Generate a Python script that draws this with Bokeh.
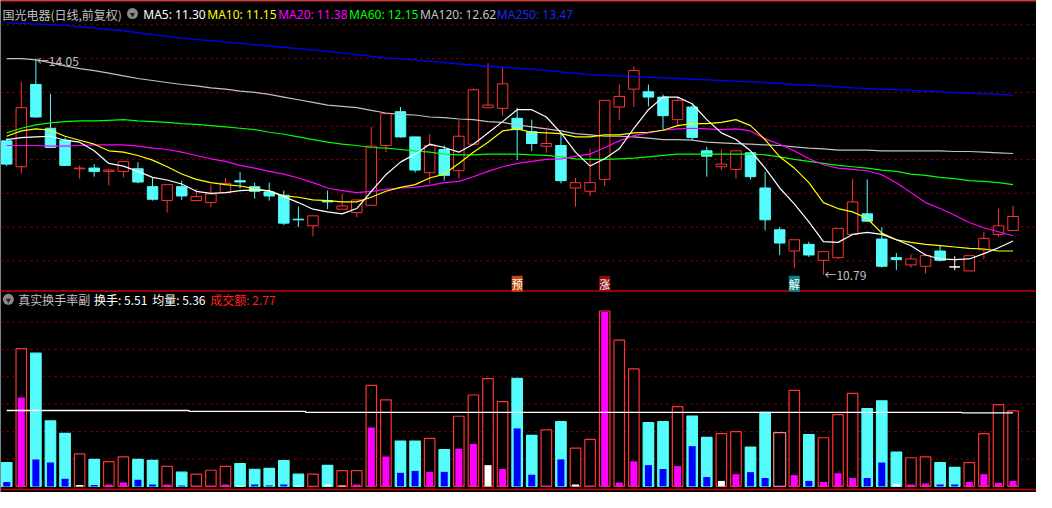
from bokeh.plotting import figure
from bokeh.models import Range1d, Span, Label, ColumnDataSource
from bokeh.embed import file_html
from bokeh.resources import INLINE

# ---------------- data ----------------
stock_title = "国光电器(日线,前复权)"
sub_title = "真实换手率副"
amount_text = "成交额: 2.77"

open_ = [12.81, 12.42, 13.66, 13.00, 12.82, 12.39, 12.40, 12.35, 12.35, 12.39,
         12.12, 11.91, 12.12, 11.91, 11.88, 12.03, 12.21, 12.12, 12.04, 11.99,
         11.63, 11.53, 11.91, 11.78, 11.73, 11.84, 12.74, 13.25, 12.87, 12.33,
         12.68, 12.36, 12.76, 13.31, 13.30, 13.15, 12.95, 12.73, 12.74, 12.10,
         12.05, 12.23, 13.32, 13.59, 13.55, 13.47, 13.13, 13.32, 12.66, 12.42,
         12.38, 12.63, 12.10, 11.47, 11.15, 11.25, 11.01, 11.05, 11.40, 11.71,
         11.33, 11.05, 10.94, 10.92, 11.15, 10.91, 10.85, 11.17, 11.40, 11.46]
high = [12.85, 13.70, 14.05, 13.52, 12.86, 12.44, 12.46, 12.39, 12.50, 12.49,
        12.26, 12.15, 12.21, 12.09, 12.15, 12.25, 12.34, 12.18, 12.18, 12.06,
        11.82, 11.68, 12.06, 12.01, 11.92, 13.02, 13.22, 13.32, 12.87, 12.91,
        12.74, 13.12, 13.60, 13.98, 13.92, 13.31, 13.13, 12.98, 12.91, 12.25,
        12.69, 13.42, 13.66, 13.93, 13.66, 13.51, 13.47, 13.35, 12.72, 12.68,
        12.66, 12.63, 12.34, 11.51, 11.32, 11.29, 11.15, 11.49, 12.24, 12.23,
        11.51, 11.12, 11.10, 11.11, 11.23, 11.07, 11.08, 11.44, 11.79, 11.83]
low = [12.43, 12.32, 13.16, 12.70, 12.43, 12.24, 12.27, 12.14, 12.26, 12.17,
       11.91, 11.73, 11.92, 11.91, 11.81, 12.02, 12.09, 11.94, 11.91, 11.54,
       11.51, 11.37, 11.78, 11.78, 11.66, 11.84, 12.64, 12.86, 12.33, 12.17,
       12.21, 12.24, 12.76, 13.31, 13.19, 12.52, 12.66, 12.63, 12.17, 11.82,
       11.98, 12.13, 13.13, 13.32, 13.33, 12.97, 13.03, 12.82, 12.27, 12.37,
       12.24, 12.23, 11.46, 11.09, 10.89, 11.06, 10.79, 11.03, 11.40, 11.59,
       10.90, 10.86, 10.90, 10.81, 10.99, 10.86, 10.85, 11.03, 11.36, 11.46]
close = [12.46, 13.31, 13.17, 12.71, 12.44, 12.40, 12.35, 12.37, 12.50, 12.19,
         11.93, 12.15, 11.98, 11.97, 12.01, 12.17, 12.19, 12.05, 11.98, 11.57,
         11.62, 11.68, 11.89, 11.83, 11.92, 12.73, 13.22, 12.87, 12.37, 12.74,
         12.29, 12.88, 13.58, 13.35, 13.67, 12.98, 12.77, 12.77, 12.21, 12.18,
         12.18, 13.42, 13.48, 13.87, 13.47, 13.19, 13.42, 12.86, 12.58, 12.46,
         12.66, 12.27, 11.62, 11.27, 11.32, 11.09, 11.14, 11.49, 11.89, 11.60,
         10.92, 11.02, 11.03, 11.08, 11.01, 10.91, 11.08, 11.34, 11.53, 11.67]

ma5 = [12.83, 12.86, 12.87, 12.88, 12.82, 12.79, 12.66, 12.47, 12.43, 12.35,
       12.26, 12.22, 12.16, 12.05, 12.02, 12.03, 12.06, 12.07, 12.06, 11.97,
       11.88, 11.78, 11.74, 11.71, 11.79, 12.05, 12.30, 12.49, 12.61, 12.76,
       12.71, 12.64, 12.76, 12.93, 13.10, 13.28, 13.28, 13.17, 12.93, 12.64,
       12.43, 12.54, 12.69, 13.00, 13.28, 13.47, 13.47, 13.37, 13.13, 12.93,
       12.83, 12.66, 12.40, 12.10, 11.86, 11.59, 11.29, 11.28, 11.40, 11.43,
       11.40, 11.32, 11.23, 11.09, 11.03, 11.02, 11.03, 11.11, 11.20, 11.30]
ma10 = [12.88, 12.96, 12.99, 12.97, 12.88, 12.82, 12.76, 12.66, 12.64, 12.59,
        12.52, 12.42, 12.31, 12.23, 12.18, 12.15, 12.13, 12.09, 12.05, 11.98,
        11.96, 11.92, 11.91, 11.89, 11.89, 11.96, 12.05, 12.11, 12.15, 12.25,
        12.31, 12.47, 12.64, 12.79, 12.96, 12.99, 12.94, 12.93, 12.92, 12.87,
        12.87, 12.90, 12.90, 12.93, 12.94, 12.97, 13.04, 13.07, 13.07, 13.09,
        13.13, 13.04, 12.83, 12.57, 12.40, 12.18, 11.88, 11.79, 11.74, 11.64,
        11.42, 11.32, 11.28, 11.25, 11.23, 11.21, 11.19, 11.18, 11.15, 11.15]
ma20 = [12.74, 12.74, 12.74, 12.73, 12.73, 12.74, 12.75, 12.75, 12.75, 12.73,
        12.70, 12.68, 12.64, 12.59, 12.54, 12.50, 12.44, 12.40, 12.35, 12.31,
        12.25, 12.18, 12.10, 12.06, 12.03, 12.05, 12.08, 12.10, 12.11, 12.14,
        12.18, 12.20, 12.27, 12.35, 12.42, 12.47, 12.50, 12.53, 12.54, 12.58,
        12.61, 12.71, 12.81, 12.89, 12.93, 12.97, 12.99, 13.00, 12.99, 12.98,
        12.99, 12.96, 12.84, 12.76, 12.66, 12.54, 12.45, 12.40, 12.38, 12.36,
        12.30, 12.18, 12.03, 11.88, 11.79, 11.69, 11.58, 11.50, 11.44, 11.38]
ma60 = [12.93, 13.00, 13.05, 13.08, 13.10, 13.11, 13.11, 13.12, 13.13, 13.11,
        13.10, 13.09, 13.07, 13.06, 13.04, 13.02, 13.00, 12.98, 12.94, 12.91,
        12.87, 12.83, 12.79, 12.76, 12.74, 12.71, 12.70, 12.68, 12.66, 12.64,
        12.61, 12.60, 12.60, 12.61, 12.61, 12.61, 12.60, 12.59, 12.57, 12.54,
        12.53, 12.53, 12.54, 12.55, 12.57, 12.59, 12.61, 12.61, 12.61, 12.61,
        12.61, 12.61, 12.60, 12.57, 12.53, 12.50, 12.47, 12.44, 12.42, 12.40,
        12.37, 12.35, 12.31, 12.29, 12.26, 12.24, 12.21, 12.20, 12.18, 12.15]
ma120 = [14.05, 14.05, 14.03, 13.99, 13.94, 13.90, 13.87, 13.83, 13.79, 13.75,
         13.72, 13.69, 13.66, 13.64, 13.61, 13.59, 13.56, 13.54, 13.51, 13.47,
         13.43, 13.39, 13.35, 13.33, 13.31, 13.27, 13.23, 13.21, 13.20, 13.17,
         13.16, 13.14, 13.13, 13.10, 13.09, 13.05, 13.02, 12.99, 12.96, 12.92,
         12.90, 12.88, 12.88, 12.87, 12.85, 12.83, 12.83, 12.82, 12.79, 12.78,
         12.77, 12.76, 12.75, 12.74, 12.72, 12.70, 12.69, 12.67, 12.67, 12.67,
         12.66, 12.66, 12.66, 12.66, 12.66, 12.65, 12.65, 12.64, 12.63, 12.62]
ma250_days = [0, 2, 4, 6, 8, 10, 12, 14, 16, 18, 20, 22, 24, 26, 28, 30, 32, 34,
              36, 38, 40, 42, 44, 46, 48, 50, 52, 54, 56, 58, 60, 62, 64, 66, 68, 69]
ma250 = [14.59, 14.57, 14.55, 14.51, 14.47, 14.41, 14.36, 14.32, 14.28, 14.24,
         14.20, 14.16, 14.11, 14.06, 14.03, 13.99, 13.95, 13.92, 13.89, 13.85,
         13.81, 13.79, 13.77, 13.75, 13.73, 13.71, 13.69, 13.66, 13.64, 13.61,
         13.59, 13.57, 13.55, 13.53, 13.51, 13.50]
ma_legend = ["MA5: 11.30", "MA10: 11.15", "MA20: 11.38", "MA60: 12.15",
             "MA120: 12.62", "MA250: 13.47"]

turnover = [1.74, 10.05, 9.72, 4.79, 3.87, 2.37, 1.97, 1.81, 2.16, 1.97,
            1.90, 1.46, 1.04, 0.89, 1.18, 1.46, 1.67, 1.25, 1.32, 1.88,
            0.89, 0.89, 1.53, 1.15, 1.15, 7.37, 6.32, 3.31, 3.31, 3.50,
            2.68, 5.12, 6.67, 7.87, 6.18, 7.89, 3.73, 4.13, 4.72, 2.80,
            3.43, 12.80, 10.68, 8.57, 4.65, 4.72, 5.82, 5.13, 3.57, 3.85,
            3.99, 2.87, 5.40, 3.92, 7.00, 3.78, 3.55, 5.24, 6.79, 5.68,
            6.25, 2.51, 2.09, 2.16, 1.74, 1.39, 1.74, 3.85, 5.96, 5.51]
turnover_inner = [0.33, 6.48, 1.97, 1.74, 0.56, 0.10, 0.10, 0.14, 0.28, 0.49,
                  0.14, 0.14, 0.07, 0.05, 0.05, 0.14, 0.05, 0.14, 0.07, 0.14,
                  0.05, 0.03, 0.14, 0.07, 0.14, 4.30, 2.18, 0.99, 1.13, 1.06,
                  1.06, 2.75, 3.10, 1.55, 1.27, 4.23, 0.85, 0.05, 1.97, 0.14,
                  0.05, 12.75, 0.28, 1.83, 1.55, 1.27, 1.48, 2.94, 0.68, 0.40,
                  0.89, 1.04, 0.61, 0.05, 0.82, 0.40, 0.33, 0.96, 0.61, 0.61,
                  1.74, 0.19, 0.14, 0.21, 0.14, 0.14, 0.33, 0.89, 0.26, 0.40]
turnover_avg = [5.54, 5.54, 5.54, 5.54, 5.54, 5.54, 5.54, 5.54, 5.54, 5.54,
                5.54, 5.54, 5.54, 5.47, 5.47, 5.47, 5.47, 5.47, 5.47, 5.47,
                5.47, 5.40, 5.40, 5.40, 5.40, 5.40, 5.40, 5.40, 5.40, 5.40,
                5.40, 5.40, 5.40, 5.40, 5.40, 5.40, 5.40, 5.40, 5.40, 5.40,
                5.40, 5.40, 5.40, 5.40, 5.40, 5.40, 5.40, 5.40, 5.40, 5.40,
                5.40, 5.40, 5.40, 5.40, 5.40, 5.40, 5.40, 5.40, 5.40, 5.40,
                5.40, 5.40, 5.40, 5.40, 5.40, 5.40, 5.36, 5.36, 5.36, 5.36]
flat_days = [5, 16, 20, 22, 23, 33, 39, 49, 61]   # inner bar drawn white
marked_days = [53]                                # highlighted turnover bar

price_grid = [14.56, 14.05, 13.54, 13.03, 12.53, 12.02, 11.51, 11.00]
turnover_grid = [2, 4, 6, 8, 10, 12]

signal_days = [35, 41, 54]
signal_text = ["预", "涨", "解"]

# ---------------- layout (reference pixel space) ----------------
REF_W, REF_H = 1052, 508
W, H = 1036, 492
X0, DX = 6.3, 14.81            # first candle centre, candle spacing
PY0, PP0, PPX = 60.0, 14.05, 68.5   # price scale anchor and px per unit
TY0, TPX = 501.7, 14.15        # turnover baseline and px per unit


def day_at(X):
    return (X - X0) / DX


def price_at(Y):
    return PP0 - (Y - PY0) / PPX


def turn_at(Y):
    return (TY0 - Y) / TPX


RED = "#FF3232"
CYAN = "#54FCFC"
WHITE = "#FFFFFF"
MAGENTA = "#FF00FF"
BLUE = "#0000FF"
GRID = "#A00000"
SEP = "#C80000"
GRAY = "#C0C0C0"
CJK = "Noto Sans CJK SC"
LAT = "Noto Sans"

p = figure(width=W, height=H, output_backend="svg", toolbar_location=None,
           x_range=Range1d(day_at(0), day_at(REF_W)),
           y_range=Range1d(price_at(REF_H), price_at(0)),
           x_axis_location=None, y_axis_location=None, min_border=0,
           background_fill_color="black", border_fill_color="black",
           outline_line_color=None)
p.extra_y_ranges = {"turn": Range1d(turn_at(REF_H), turn_at(0))}
p.grid.grid_line_color = None

# grid lines (behind the marks)
for g in price_grid:
    p.add_layout(Span(location=g, dimension="width", line_color=GRID,
                      line_dash="2 4", line_width=1, level="underlay"))
for g in turnover_grid:
    p.add_layout(Span(location=g, dimension="width", y_range_name="turn",
                      line_color=GRID, line_dash="2 4", line_width=1,
                      level="underlay"))
# panel separators
p.add_layout(Span(location=price_at(0.5), dimension="width", line_color=SEP, line_width=1.5))
p.add_layout(Span(location=price_at(300), dimension="width", line_color=SEP, line_width=1.5))
p.add_layout(Span(location=turn_at(505), dimension="width", y_range_name="turn",
                  line_color=SEP, line_width=1.5))

days = list(range(len(close)))
col = [RED if c > o else (CYAN if c < o else WHITE) for o, c in zip(open_, close)]
fill = ["black" if c > o else k for o, c, k in zip(open_, close, col)]
src = ColumnDataSource(dict(
    x=days, h=high, l=low,
    top=[max(o, c) for o, c in zip(open_, close)],
    bot=[min(o, c) for o, c in zip(open_, close)],
    col=col, fill=fill))
p.segment(x0="x", y0="l", x1="x", y1="h", line_color="col", line_width=1, source=src)
p.vbar(x="x", top="top", bottom="bot", width=0.72, fill_color="fill",
       line_color="col", line_width=1, source=src)

# moving averages
p.line(ma250_days, ma250, line_color="#0000FF", line_width=1.3)
p.line(days, ma120, line_color=GRAY, line_width=1.2)
p.line(days, ma60, line_color="#00FF00", line_width=1.2)
p.line(days, ma20, line_color=MAGENTA, line_width=1.2)
p.line(days, ma10, line_color="#FFFF00", line_width=1.2)
p.line(days, ma5, line_color=WHITE, line_width=1.2)

# turnover panel
up_bar = [(c > o) or (j in marked_days) for j, (o, c) in enumerate(zip(open_, close))]
t_line = [("#FF8080" if j in marked_days else (RED if u else CYAN)) for j, u in enumerate(up_bar)]
t_fill = ["black" if u else CYAN for u in up_bar]
t_width = [0.82 if j in marked_days else 0.72 for j in days]
t_inner = [WHITE if j in flat_days else (MAGENTA if u else BLUE) for j, u in enumerate(up_bar)]
tsrc = ColumnDataSource(dict(x=days, t=turnover, ti=turnover_inner, lc=t_line,
                             fc=t_fill, w=t_width, ic=t_inner))
p.vbar(x="x", top="t", bottom=0, width="w", fill_color="fc", line_color="lc",
       line_width=1.2, y_range_name="turn", source=tsrc)
p.vbar(x="x", top="ti", bottom=0, width=0.48, fill_color="ic", line_color=None,
       y_range_name="turn", source=tsrc)
p.step(days, turnover_avg, mode="center", line_color=WHITE, line_width=1.3,
       y_range_name="turn")

# high / low annotations
hi_day = max(days, key=lambda j: high[j])
lo_day = min(days, key=lambda j: low[j])
p.add_layout(Label(x=hi_day, y=high[hi_day], text="←%.2f" % high[hi_day],
                   text_color=GRAY, text_font=CJK, text_font_size="12px",
                   text_baseline="middle", x_offset=1, y_offset=-2))
p.add_layout(Label(x=lo_day, y=low[lo_day], text="←%.2f" % low[lo_day],
                   text_color=GRAY, text_font=CJK, text_font_size="12px",
                   text_baseline="middle", x_offset=1))

# signal markers
sig_bg = ["#C04A0A", "#8C0A0A", "#108080"]
for d, t, bg in zip(signal_days, signal_text, sig_bg):
    p.add_layout(Label(x=d, y=price_at(292.5), text=t, text_color=WHITE,
                       text_font=CJK, text_font_size="11px", text_align="center",
                       text_baseline="middle", background_fill_color=bg))


def add_text(txt, X, Y, color, font):
    p.add_layout(Label(x=day_at(X), y=price_at(Y), text=txt, text_color=color,
                       text_font=font, text_font_size="12px",
                       text_baseline="middle"))


# title row
add_text(stock_title, 2, 14, GRAY, CJK)
ma_cols = [WHITE, "#FFFF00", MAGENTA, "#00FF00", GRAY, "#2424F0"]
ma_x = [145, 210, 282, 354, 426, 504]
for t, c, X in zip(ma_legend, ma_cols, ma_x):
    add_text(t, X, 14, c, LAT)
p.scatter([day_at(134)], [price_at(13.5)], marker="circle", size=11,
          fill_color="#8A8A8A", line_color=None)
p.scatter([day_at(134)], [price_at(14.5)], marker="inverted_triangle", size=5,
          fill_color="#202020", line_color=None)

# sub panel title row
add_text(sub_title, 18, 309, GRAY, CJK)
add_text("换手: %.2f" % turnover[-1], 95, 309, WHITE, CJK)
add_text("均量: %.2f" % turnover_avg[-1], 154, 309, WHITE, CJK)
add_text(amount_text, 213, 309, "#FF2020", CJK)
p.scatter([day_at(8)], [price_at(308.5)], marker="circle", size=11,
          fill_color="#8A8A8A", line_color=None)
p.scatter([day_at(8)], [price_at(309.5)], marker="inverted_triangle", size=5,
          fill_color="#202020", line_color=None)

open("out.html", "w").write(file_html(p, INLINE))
